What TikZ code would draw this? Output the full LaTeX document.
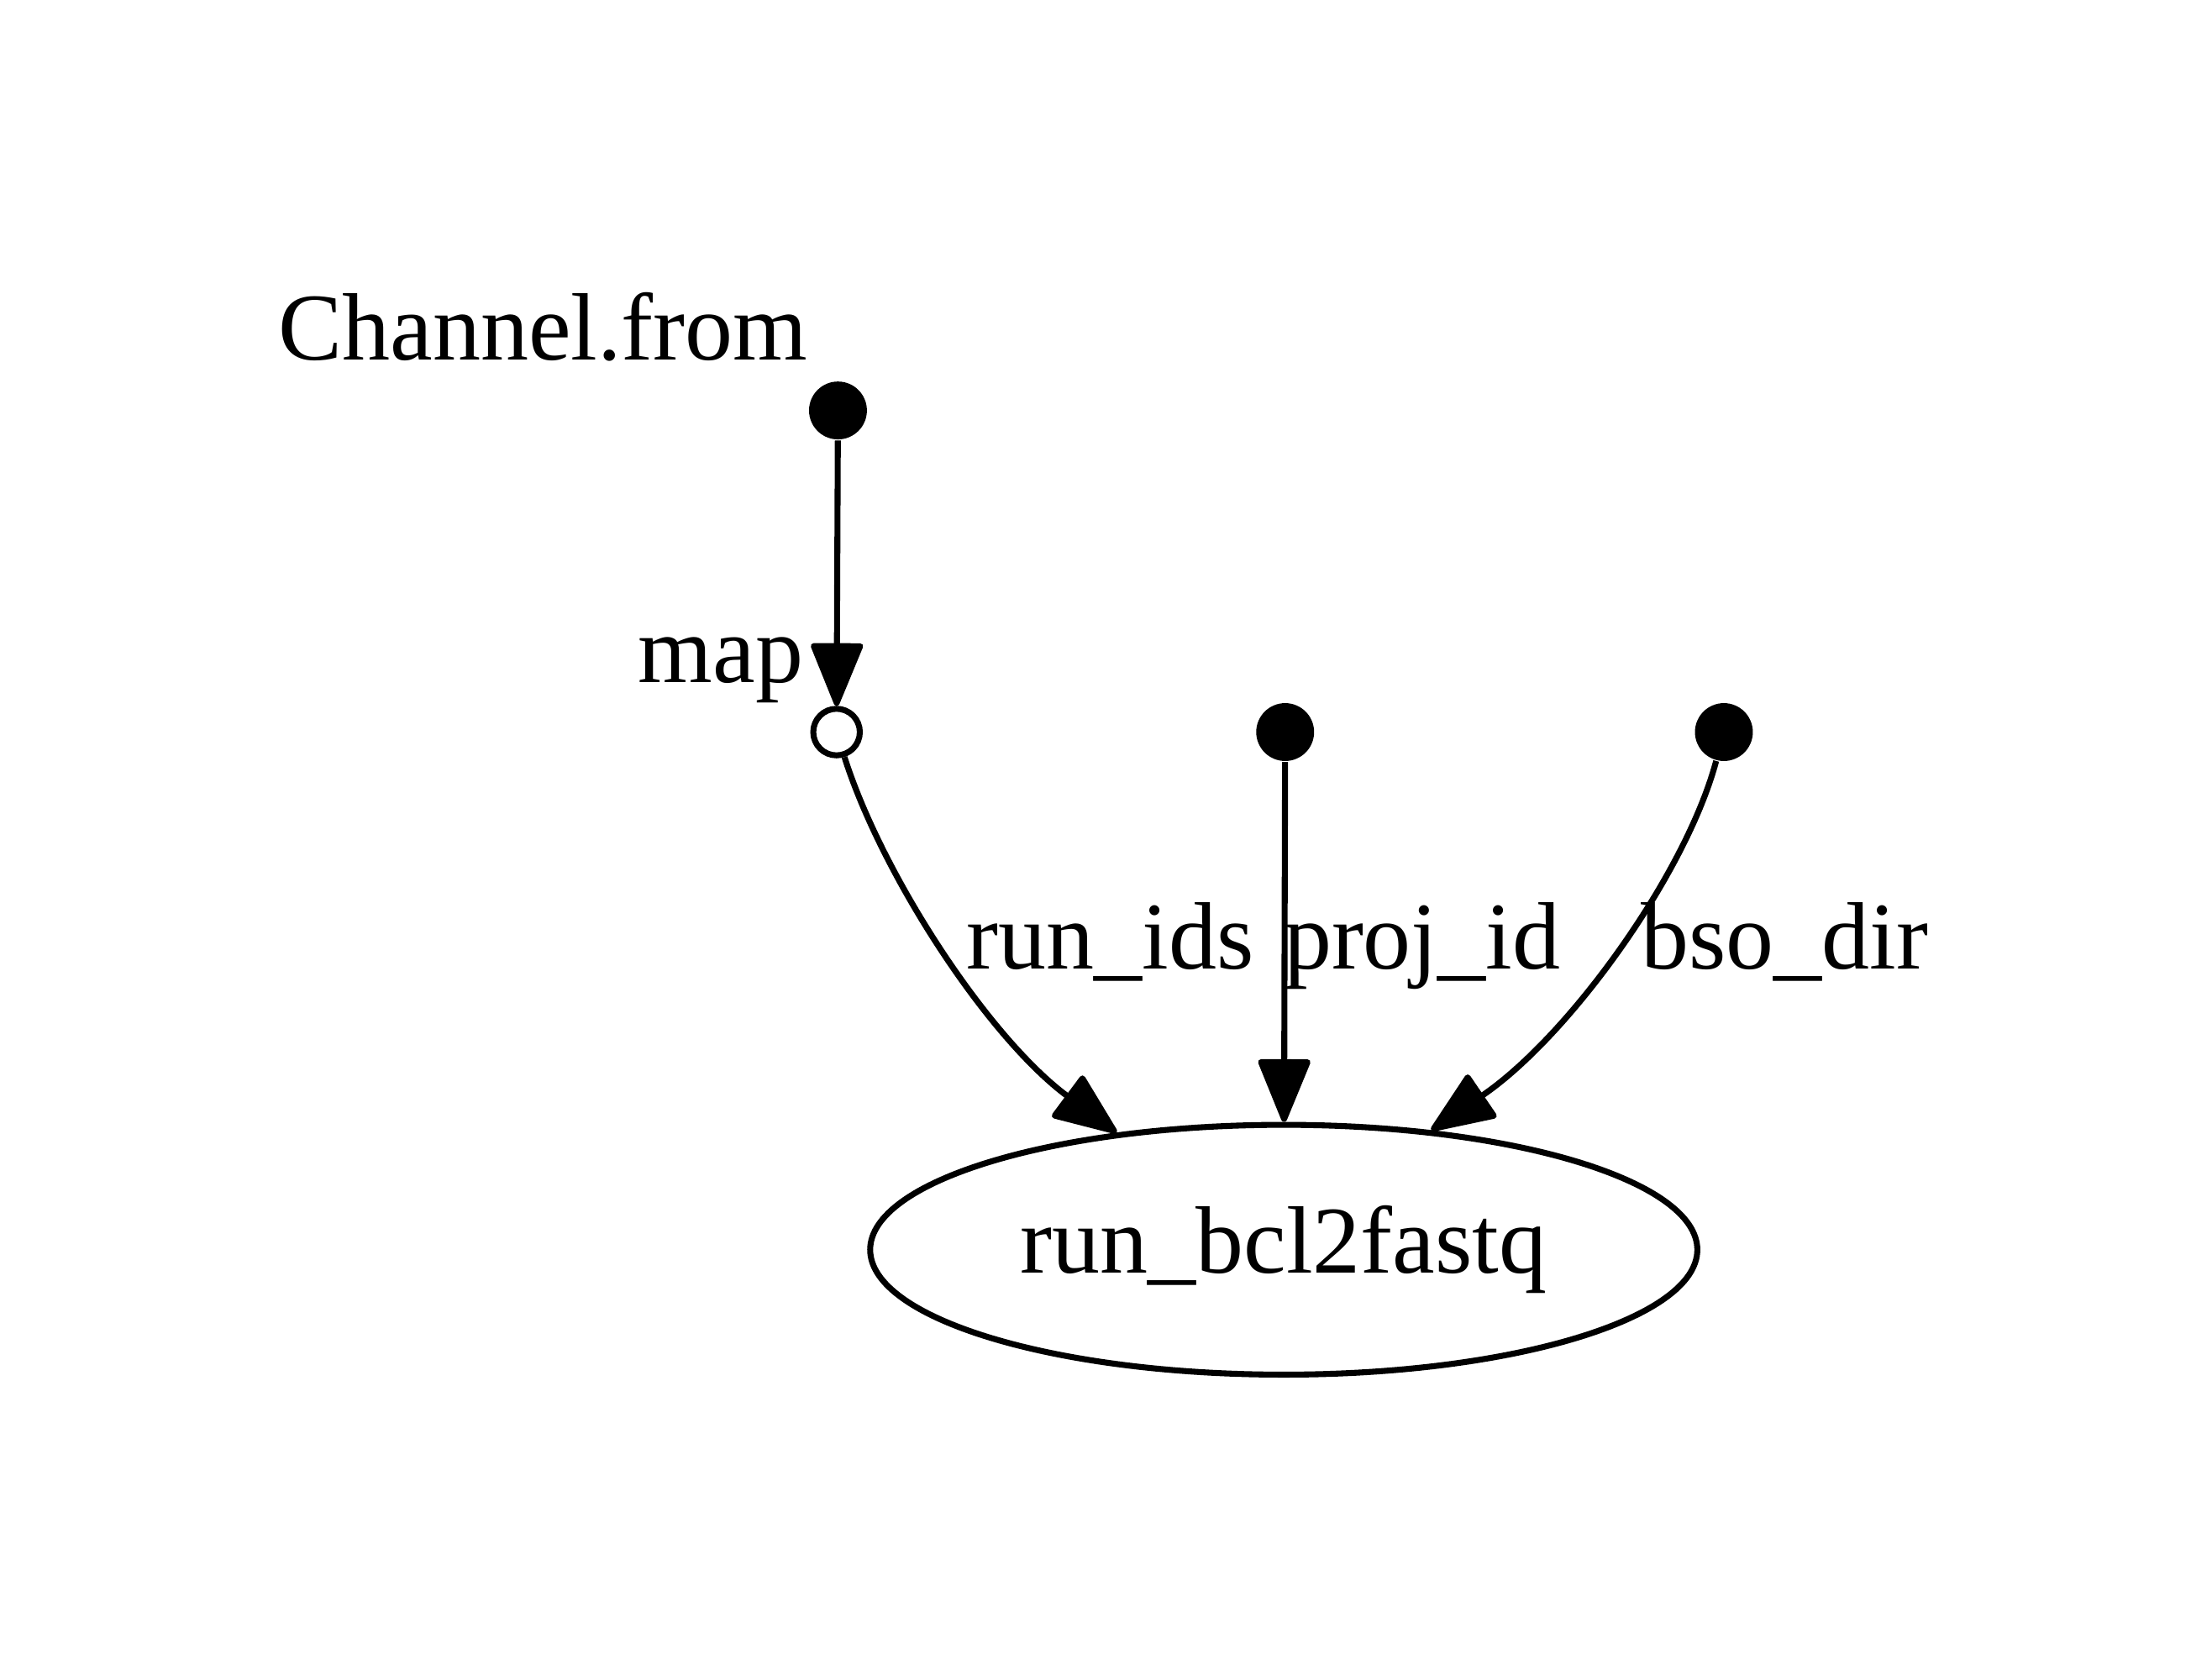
\documentclass[tikz,border=0pt]{standalone}
\usepackage{fontspec}
\setmainfont{Liberation Serif}
\usetikzlibrary{arrows.meta,positioning,shapes.geometric}

\begin{document}
\begin{tikzpicture}[x=0.01cm, y=-0.01cm,
				every node/.style={font=\fontsize{19.3}{23}\selectfont},
				src/.style={circle, fill=black, inner sep=0pt, minimum size=0.41cm},
				op/.style={circle, draw, line width=1.2pt, inner sep=0pt, minimum size=0.33cm},
				proc/.style={ellipse, draw, line width=1.2pt, minimum width=5.86cm, minimum height=1.77cm},
				lbl/.style={anchor=base, inner sep=0pt},
				flow/.style={line width=1.2pt, line join=round, -{Triangle[length=0.48cm, width=0.38cm, round]}}]
				\useasboundingbox (0,0) rectangle (1568,1176);

				\node[src] (from) at (594,291) {};
				\node[op] (map) at (593,519) {};
				\node[src] (proj) at (911,519) {};
				\node[src] (bso) at (1222,519) {};
				\node[proc] (bcl) at (910,886) {run\_bcl2fastq};

				\node[lbl] (fromlbl) at (385,255) {Channel.from};
				\node[lbl] (maplbl) at (511,484) {map};
				\node[lbl] (runlbl) at (787,687) {run\_ids};
				\node[lbl] (projlbl) at (1008,687) {proj\_id};
				\node[lbl] (bsolbl) at (1265,687) {bso\_dir};

				\draw[flow] (from) -- (map);
				\draw[flow] (map) .. controls (625,620) and (700,735) .. (bcl.145);
				\draw[flow] (proj) -- (bcl);
				\draw[flow] (bso) .. controls (1195,620) and (1112,735) .. (bcl.39);
			\end{tikzpicture}
\end{document}
